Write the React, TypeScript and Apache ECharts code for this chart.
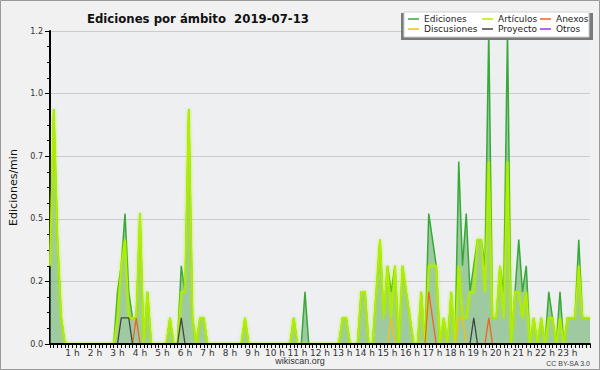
import React, { useEffect, useRef } from "react";
import * as echarts from "echarts";

const chartTitle = "Ediciones por ámbito  2019-07-13";
const yAxisName = "Ediciones/min";
const footerCenter = "wikiscan.org";
const footerRight = "CC BY-SA 3.0";
const binMinutes = 10;
const seriesNames = ["Ediciones", "Artículos", "Anexos", "Discusiones", "Proyecto", "Otros"];
const seriesColors = ["#36a936", "#b2ee00", "#f0641e", "#f5c400", "#444444", "#9933ee"];

// 10-minute bins, one row per hour (6 values), plus the closing value at 24 h
const ediciones = [
  0.3, 0.9, 0.4, 0.1, 0, 0,
  0, 0, 0, 0, 0, 0,
  0, 0, 0, 0, 0, 0,
  0.2, 0.3, 0.5, 0.2, 0.1, 0.1,
  0.5, 0, 0.2, 0, 0, 0,
  0, 0, 0.1, 0, 0, 0.3,
  0.2, 0.9, 0.1, 0, 0.1, 0.1,
  0, 0, 0, 0, 0, 0,
  0, 0, 0, 0, 0.1, 0,
  0, 0, 0, 0, 0, 0,
  0, 0, 0, 0, 0, 0.1,
  0, 0, 0.2, 0, 0, 0,
  0, 0, 0, 0, 0, 0,
  0.1, 0.1, 0, 0, 0, 0.2,
  0.2, 0, 0, 0.2, 0.4, 0.1,
  0.3, 0.2, 0.3, 0, 0.3, 0.2,
  0.1, 0, 0, 0.2, 0, 0.5,
  0.4, 0.3, 0, 0.1, 0, 0.2,
  0, 0.7, 0.3, 0.5, 0.2, 0.3,
  0.4, 0.4, 0.3, 1.2, 0.1, 0.1,
  0.3, 0.2, 1.2, 0, 0.2, 0.4,
  0.2, 0.3, 0, 0.1, 0, 0.1,
  0, 0.2, 0.1, 0, 0.2, 0,
  0.1, 0.1, 0.1, 0.4, 0.1, 0.1,
  0.1,
];

const articulos = [
  0.3, 0.9, 0.4, 0.1, 0, 0,
  0, 0, 0, 0, 0, 0,
  0, 0, 0, 0, 0, 0,
  0.1, 0.3, 0.4, 0.1, 0.1, 0.1,
  0.5, 0, 0.2, 0, 0, 0,
  0, 0, 0.1, 0, 0, 0.2,
  0.2, 0.9, 0.1, 0, 0.1, 0.1,
  0, 0, 0, 0, 0, 0,
  0, 0, 0, 0, 0.1, 0,
  0, 0, 0, 0, 0, 0,
  0, 0, 0, 0, 0, 0.1,
  0, 0, 0, 0, 0, 0,
  0, 0, 0, 0, 0, 0,
  0.1, 0.1, 0, 0, 0, 0.2,
  0.2, 0, 0, 0.2, 0.4, 0.1,
  0.3, 0.1, 0.3, 0, 0.3, 0.2,
  0.1, 0, 0, 0.2, 0, 0.3,
  0.3, 0.3, 0, 0.1, 0, 0.2,
  0, 0.3, 0.1, 0.1, 0.2, 0.2,
  0.4, 0.4, 0.2, 0.7, 0.1, 0.1,
  0.3, 0.1, 0.7, 0, 0.2, 0.2,
  0.1, 0.2, 0, 0.1, 0, 0.1,
  0, 0.1, 0.1, 0, 0.1, 0,
  0.1, 0.1, 0.1, 0.3, 0.1, 0.1,
  0.1,
];

const anexos = [
  0, 0, 0, 0, 0, 0,
  0, 0, 0, 0, 0, 0,
  0, 0, 0, 0, 0, 0,
  0, 0, 0, 0, 0, 0.1,
  0, 0, 0, 0, 0, 0,
  0, 0, 0, 0, 0, 0,
  0, 0, 0, 0, 0, 0,
  0, 0, 0, 0, 0, 0,
  0, 0, 0, 0, 0, 0,
  0, 0, 0, 0, 0, 0,
  0, 0, 0, 0, 0, 0,
  0, 0, 0, 0, 0, 0,
  0, 0, 0, 0, 0, 0,
  0, 0, 0, 0, 0, 0,
  0, 0, 0, 0, 0, 0,
  0, 0, 0, 0, 0, 0,
  0, 0, 0, 0, 0, 0.2,
  0.1, 0, 0, 0, 0, 0,
  0, 0, 0, 0, 0, 0,
  0, 0, 0, 0.1, 0, 0,
  0, 0, 0, 0, 0, 0,
  0, 0, 0, 0, 0, 0,
  0, 0, 0, 0, 0, 0,
  0, 0, 0, 0, 0, 0,
  0,
];

const discusiones = [
  0, 0, 0, 0, 0, 0,
  0, 0, 0, 0, 0, 0,
  0, 0, 0, 0, 0, 0,
  0, 0, 0, 0, 0, 0,
  0, 0, 0, 0, 0, 0,
  0, 0, 0, 0, 0, 0,
  0, 0, 0, 0, 0, 0,
  0, 0, 0, 0, 0, 0,
  0, 0, 0, 0, 0, 0,
  0, 0, 0, 0, 0, 0,
  0, 0, 0, 0, 0, 0,
  0, 0, 0, 0, 0, 0,
  0, 0, 0, 0, 0, 0,
  0, 0, 0, 0, 0, 0,
  0, 0, 0, 0, 0, 0,
  0, 0.1, 0, 0, 0, 0,
  0, 0, 0, 0, 0, 0,
  0, 0, 0, 0, 0, 0,
  0, 0.1, 0.1, 0, 0, 0,
  0, 0, 0, 0, 0, 0,
  0, 0, 0, 0, 0, 0,
  0, 0, 0, 0, 0, 0,
  0, 0, 0, 0, 0, 0,
  0, 0, 0, 0, 0, 0,
  0,
];

const proyecto = [
  0, 0, 0, 0, 0, 0,
  0, 0, 0, 0, 0, 0,
  0, 0, 0, 0, 0, 0,
  0, 0.1, 0.1, 0.1, 0, 0,
  0, 0, 0, 0, 0, 0,
  0, 0, 0, 0, 0, 0.1,
  0, 0, 0, 0, 0, 0,
  0, 0, 0, 0, 0, 0,
  0, 0, 0, 0, 0, 0,
  0, 0, 0, 0, 0, 0,
  0, 0, 0, 0, 0, 0,
  0, 0, 0, 0, 0, 0,
  0, 0, 0, 0, 0, 0,
  0, 0, 0, 0, 0, 0,
  0, 0, 0, 0, 0, 0,
  0, 0, 0, 0, 0, 0,
  0, 0, 0, 0, 0, 0,
  0, 0, 0, 0, 0, 0,
  0, 0, 0, 0, 0, 0.1,
  0, 0, 0, 0, 0, 0,
  0, 0, 0, 0, 0, 0,
  0, 0, 0, 0, 0, 0,
  0, 0, 0, 0, 0, 0,
  0, 0, 0, 0, 0, 0,
  0,
];

const otros = [
  0, 0, 0, 0, 0, 0,
  0, 0, 0, 0, 0, 0,
  0, 0, 0, 0, 0, 0,
  0, 0, 0, 0, 0, 0,
  0, 0, 0, 0, 0, 0,
  0, 0, 0, 0, 0, 0,
  0, 0, 0, 0, 0, 0,
  0, 0, 0, 0, 0, 0,
  0, 0, 0, 0, 0, 0,
  0, 0, 0, 0, 0, 0,
  0, 0, 0, 0, 0, 0,
  0, 0, 0, 0, 0, 0,
  0, 0, 0, 0, 0, 0,
  0, 0, 0, 0, 0, 0,
  0, 0, 0, 0, 0, 0,
  0, 0, 0, 0, 0, 0,
  0, 0, 0, 0, 0, 0,
  0, 0, 0, 0, 0, 0,
  0, 0, 0, 0, 0, 0,
  0, 0, 0, 0, 0, 0,
  0, 0, 0, 0, 0, 0,
  0, 0, 0, 0, 0, 0,
  0, 0, 0, 0, 0, 0,
  0, 0, 0, 0, 0, 0,
  0,
];

const seriesValues = [ediciones, articulos, anexos, discusiones, proyecto, otros];

const FONT = "'DejaVu Sans', Verdana, sans-serif";

export default function App() {
  const ref = useRef<HTMLDivElement>(null);

  useEffect(() => {
    if (!ref.current) return;
    const chart = echarts.init(ref.current, null, { renderer: "svg" });
    const toPoints = (arr: number[]) => arr.map((v, i) => [(i * binMinutes) / 60, v]);

    const series: any[] = seriesNames.map((name, k) => {
      const s: any = {
        name,
        type: "line",
        data: toPoints(seriesValues[k]),
        symbol: "none",
        showSymbol: false,
        smooth: false,
        z: 2 + k * 0.1,
        itemStyle: { color: seriesColors[k] },
        lineStyle: { color: seriesColors[k], width: 1.3 },
      };
      if (k === 0) {
        s.areaStyle = { color: "rgba(88,168,88,0.52)", opacity: 1 };
        s.lineStyle = { color: seriesColors[0], width: 1.5 };
      }
      if (k === 1) {
        s.lineStyle = {
          color: seriesColors[1],
          width: 1.8,
          shadowBlur: 3,
          shadowColor: "rgba(170,240,0,0.9)",
        };
      }
      return s;
    });

    const legendCommon = {
      orient: "vertical",
      top: 14,
      padding: 0,
      itemGap: 0,
      itemWidth: 11,
      itemHeight: 1.5,
      icon: "rect",
      selectedMode: false,
      textStyle: { fontSize: 9, lineHeight: 10, color: "#222", fontFamily: FONT, padding: [0, 0, 0, 0] },
      z: 6,
    };

    chart.setOption({
      animation: false,
      backgroundColor: "#f1f1f1",
      title: {
        text: chartTitle,
        left: 82,
        top: 7,
        textStyle: {
          fontSize: 13,
          fontWeight: "bold",
          color: "#111",
          fontFamily: "'Liberation Sans Narrow', 'DejaVu Sans Condensed', sans-serif",
        },
      },
      legend: [
        { ...legendCommon, left: 408, data: ["Ediciones", "Discusiones"] },
        { ...legendCommon, left: 482, data: ["Artículos", "Proyecto"] },
        { ...legendCommon, left: 540, data: ["Anexos", "Otros"] },
      ],
      grid: {
        left: 46,
        right: 10,
        top: 31,
        bottom: 26,
        show: true,
        backgroundColor: "#edeff1",
        borderWidth: 0,
      },
      xAxis: {
        type: "value",
        min: 0,
        max: 24,
        interval: 1,
        z: 8,
        axisLine: { show: true, lineStyle: { color: "#000", width: 2 } },
        axisTick: { show: true, length: 4, lineStyle: { color: "#000", width: 1 } },
        minorTick: { show: true, splitNumber: 6, length: 4, lineStyle: { color: "#000", width: 1 } },
        splitLine: { show: false },
        axisLabel: {
          formatter: (v: number) => `${v} h`,
          showMinLabel: false,
          showMaxLabel: false,
          fontSize: 9,
          margin: 4,
          color: "#333",
          fontFamily: FONT,
        },
      },
      yAxis: {
        type: "value",
        min: 0,
        max: 1.2,
        interval: 0.24,
        name: yAxisName,
        nameLocation: "middle",
        nameGap: 31,
        nameRotate: 90,
        nameTextStyle: { fontSize: 11, color: "#111", fontFamily: FONT },
        axisLine: { show: true, lineStyle: { color: "#000", width: 2 } },
        axisTick: { show: true, length: 5, lineStyle: { color: "#000", width: 1 } },
        minorTick: { show: true, splitNumber: 4, length: 3, lineStyle: { color: "#000", width: 1 } },
        splitLine: { show: true, lineStyle: { color: "#cccccc", width: 1 } },
        axisLabel: {
          formatter: (v: number) => v.toFixed(1),
          fontSize: 8,
          margin: 7,
          color: "#333",
          fontFamily: FONT,
        },
      },
      graphic: [
        {
          type: "rect",
          z: 3,
          shape: { x: 401, y: 13, width: 192, height: 27 },
          style: { fill: "#7a7a7a" },
        },
        {
          type: "rect",
          z: 3,
          shape: { x: 404, y: 12, width: 185, height: 25 },
          style: { fill: "#ffffff", stroke: "#d0d0d0", lineWidth: 1 },
        },
        {
          type: "text",
          z: 3,
          x: 300,
          y: 361,
          style: {
            text: footerCenter,
            fontSize: 9,
            fill: "#333",
            font: `9px ${FONT}`,
            textAlign: "center",
            textVerticalAlign: "middle",
          },
        },
        {
          type: "text",
          z: 3,
          x: 590,
          y: 363,
          style: {
            text: footerRight,
            fontSize: 7,
            fill: "#444",
            font: `7px ${FONT}`,
            textAlign: "right",
            textVerticalAlign: "middle",
          },
        },
        {
          type: "rect",
          z: 10,
          shape: { x: 0.5, y: 0.5, width: 599, height: 369 },
          style: { fill: "none", stroke: "#9a9a9a", lineWidth: 1 },
        },
      ],
      series,
    });

    return () => chart.dispose();
  }, []);

  return (
    <div
      ref={ref}
      style={{ position: "fixed", left: 0, top: 0, width: 600, height: 370 }}
    />
  );
}
